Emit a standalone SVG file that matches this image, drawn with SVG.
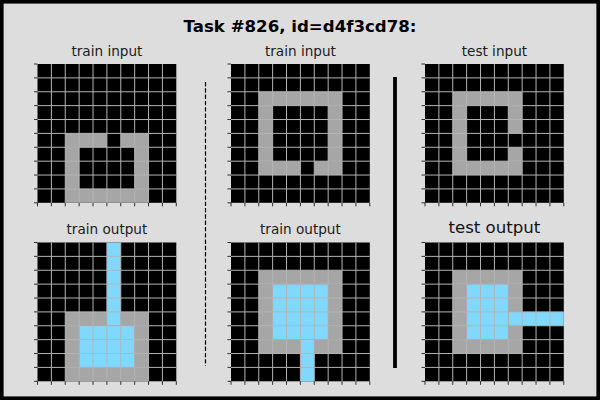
<svg xmlns="http://www.w3.org/2000/svg" xmlns:xlink="http://www.w3.org/1999/xlink" width="600" height="400" viewBox="0 0 600 400">
<style>
.bg{fill:#dddddd;stroke:#000000;stroke-width:3.6}
.cellbg{fill:#000000}
.g5{fill:#a6a6a6}
.b8{fill:#80d8ff}
.gl{stroke:#b4b4b4;stroke-width:1;fill:none}
.tk{stroke:#000000;stroke-width:0.8;fill:none}
.ttl{font-family:"DejaVu Sans","Liberation Sans",sans-serif;font-size:13.6px;fill:#1a1a1a;text-anchor:middle}
.ttl2{font-family:"DejaVu Sans","Liberation Sans",sans-serif;font-size:16.6px;fill:#111111;text-anchor:middle}
.main{font-family:"DejaVu Sans","Liberation Sans",sans-serif;font-size:16.6px;font-weight:bold;fill:#000000;text-anchor:middle}
</style>
<defs>
<g id="grid">
<path class="gl" d="M13.88 0V138.8M27.76 0V138.8M41.64 0V138.8M55.52 0V138.8M69.4 0V138.8M83.28 0V138.8M97.16 0V138.8M111.04 0V138.8M124.92 0V138.8M0 13.88H138.8M0 27.76H138.8M0 41.64H138.8M0 55.52H138.8M0 69.4H138.8M0 83.28H138.8M0 97.16H138.8M0 111.04H138.8M0 124.92H138.8"/>
<path class="tk" d="M-3.5 0H0M-3.5 13.88H0M-3.5 27.76H0M-3.5 41.64H0M-3.5 55.52H0M-3.5 69.4H0M-3.5 83.28H0M-3.5 97.16H0M-3.5 111.04H0M-3.5 124.92H0M-3.5 138.8H0M0 138.8V142.3M13.88 138.8V142.3M27.76 138.8V142.3M41.64 138.8V142.3M55.52 138.8V142.3M69.4 138.8V142.3M83.28 138.8V142.3M97.16 138.8V142.3M111.04 138.8V142.3M124.92 138.8V142.3M138.8 138.8V142.3"/>
</g>
</defs>
<rect class="bg" x="1.8" y="1.8" width="596.4" height="396.4"/>
<text class="main" x="300" y="32">Task #826, id=d4f3cd78:</text>

<g id="train-input-1" transform="translate(37.5,64)">
<rect class="cellbg" x="0" y="0" width="138.8" height="138.8"/>
<rect class="g5" x="27.76" y="69.4" width="41.64" height="13.88"/>
<rect class="g5" x="83.28" y="69.4" width="27.76" height="13.88"/>
<rect class="g5" x="27.76" y="83.28" width="13.88" height="41.64"/>
<rect class="g5" x="97.16" y="83.28" width="13.88" height="41.64"/>
<rect class="g5" x="27.76" y="124.92" width="83.28" height="13.88"/>
<use xlink:href="#grid"/>
<text class="ttl" x="69.4" y="-8">train input</text>
</g>

<g id="train-output-1" transform="translate(37.5,242.5)">
<rect class="cellbg" x="0" y="0" width="138.8" height="138.8"/>
<rect class="g5" x="27.76" y="69.4" width="41.64" height="13.88"/>
<rect class="g5" x="83.28" y="69.4" width="27.76" height="13.88"/>
<rect class="g5" x="27.76" y="83.28" width="13.88" height="41.64"/>
<rect class="g5" x="97.16" y="83.28" width="13.88" height="41.64"/>
<rect class="g5" x="27.76" y="124.92" width="83.28" height="13.88"/>
<rect class="b8" x="69.4" y="0" width="13.88" height="83.28"/>
<rect class="b8" x="41.64" y="83.28" width="55.52" height="41.64"/>
<use xlink:href="#grid"/>
<text class="ttl" x="69.4" y="-8.5">train output</text>
</g>

<g id="train-input-2" transform="translate(231,64)">
<rect class="cellbg" x="0" y="0" width="138.8" height="138.8"/>
<rect class="g5" x="27.76" y="27.76" width="83.28" height="13.88"/>
<rect class="g5" x="27.76" y="41.64" width="13.88" height="55.52"/>
<rect class="g5" x="97.16" y="41.64" width="13.88" height="55.52"/>
<rect class="g5" x="27.76" y="97.16" width="41.64" height="13.88"/>
<rect class="g5" x="83.28" y="97.16" width="27.76" height="13.88"/>
<use xlink:href="#grid"/>
<text class="ttl" x="69.4" y="-8">train input</text>
</g>

<g id="train-output-2" transform="translate(231,242.5)">
<rect class="cellbg" x="0" y="0" width="138.8" height="138.8"/>
<rect class="g5" x="27.76" y="27.76" width="83.28" height="13.88"/>
<rect class="g5" x="27.76" y="41.64" width="13.88" height="55.52"/>
<rect class="g5" x="97.16" y="41.64" width="13.88" height="55.52"/>
<rect class="g5" x="27.76" y="97.16" width="41.64" height="13.88"/>
<rect class="g5" x="83.28" y="97.16" width="27.76" height="13.88"/>
<rect class="b8" x="41.64" y="41.64" width="55.52" height="55.52"/>
<rect class="b8" x="69.4" y="97.16" width="13.88" height="41.64"/>
<use xlink:href="#grid"/>
<text class="ttl" x="69.4" y="-8.5">train output</text>
</g>

<g id="test-input" transform="translate(425,64)">
<rect class="cellbg" x="0" y="0" width="138.8" height="138.8"/>
<rect class="g5" x="27.76" y="27.76" width="69.4" height="13.88"/>
<rect class="g5" x="27.76" y="41.64" width="13.88" height="55.52"/>
<rect class="g5" x="83.28" y="41.64" width="13.88" height="27.76"/>
<rect class="g5" x="83.28" y="83.28" width="13.88" height="13.88"/>
<rect class="g5" x="27.76" y="97.16" width="69.4" height="13.88"/>
<use xlink:href="#grid"/>
<text class="ttl" x="69.4" y="-8">test input</text>
</g>

<g id="test-output" transform="translate(425,242.5)">
<rect class="cellbg" x="0" y="0" width="138.8" height="138.8"/>
<rect class="g5" x="27.76" y="27.76" width="69.4" height="13.88"/>
<rect class="g5" x="27.76" y="41.64" width="13.88" height="55.52"/>
<rect class="g5" x="83.28" y="41.64" width="13.88" height="27.76"/>
<rect class="g5" x="83.28" y="83.28" width="13.88" height="13.88"/>
<rect class="g5" x="27.76" y="97.16" width="69.4" height="13.88"/>
<rect class="b8" x="41.64" y="41.64" width="41.64" height="55.52"/>
<rect class="b8" x="83.28" y="69.4" width="55.52" height="13.88"/>
<use xlink:href="#grid"/>
<text class="ttl2" x="69.4" y="-9.5">test output</text>
</g>

<g id="separators">
<line x1="205.5" y1="82" x2="205.5" y2="366" stroke="#000000" stroke-width="1.2" stroke-dasharray="4.4,1.9"/>
<line x1="395" y1="77" x2="395" y2="368" stroke="#000000" stroke-width="3.8"/>
</g>
</svg>
